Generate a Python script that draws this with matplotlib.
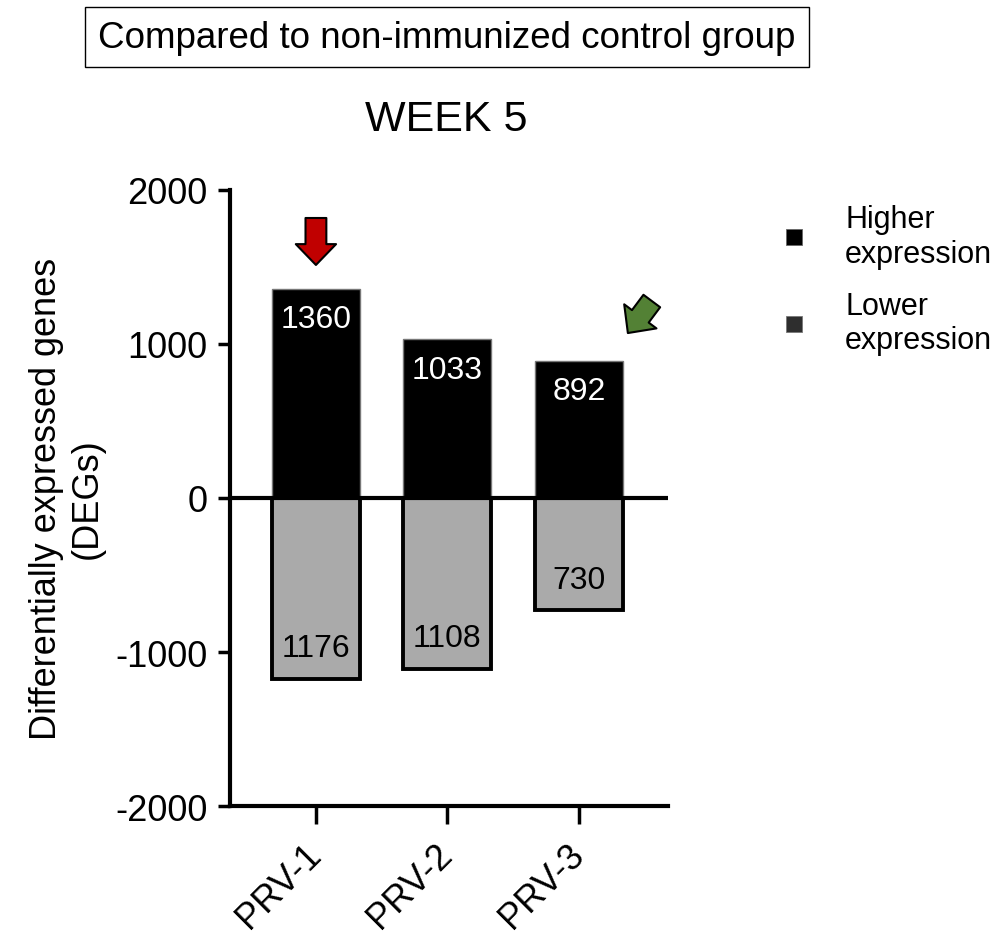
import matplotlib
matplotlib.use("Agg")
import matplotlib.pyplot as plt
import numpy as np
from matplotlib.lines import Line2D

plt.rcParams['font.family'] = ['Liberation Sans', 'DejaVu Sans']
plt.rcParams['axes.unicode_minus'] = False

### data
groups = ["PRV-1", "PRV-2", "PRV-3"]
higher = [1360, 1033, 892]
lower = [1176, 1108, 730]

fig = plt.figure(figsize=(10.02, 9.37), dpi=100)
ax = fig.add_axes([0.2295, 0.1387, 0.437, 0.6575])

x = np.arange(len(groups))
w = 0.67
ax.bar(x, higher, width=w, color="black", edgecolor="#777777", linewidth=1, zorder=2)
ax.bar(x, [-v for v in lower], width=w, color="#aaaaaa", edgecolor="black", linewidth=2.8, zorder=2)
ax.axhline(0, color="black", linewidth=3, zorder=3)

# value labels inside the bars
for i in range(len(groups)):
    ax.text(x[i], higher[i] - 200, str(higher[i]), color="white", fontsize=23,
            ha="center", va="center", zorder=4)
    ax.text(x[i], -lower[i] + 200, str(lower[i]), color="black", fontsize=23,
            ha="center", va="center", zorder=4)

ax.set_xlim(-0.654, 2.677)
ax.set_ylim(-2000, 2000)
ax.set_yticks([-2000, -1000, 0, 1000, 2000])
ax.set_xticks(x)
ax.set_xticklabels(groups, rotation=45, ha="right", va="center", rotation_mode="anchor")
ax.tick_params(axis="both", labelsize=26, width=2.5, direction="out")
ax.tick_params(axis="y", length=9, pad=7)
ax.tick_params(axis="x", length=13, pad=18)
for s in ["top", "right"]:
    ax.spines[s].set_visible(False)
for s in ["left", "bottom"]:
    ax.spines[s].set_linewidth(3)

ax.set_ylabel("Differentially expressed genes\n(DEGs)", fontsize=26, labelpad=8)

# arrows
style = "simple,head_width=2.9,head_length=1.5,tail_width=1.5"
ax.annotate("", xy=(0, 1513), xytext=(0, 1818),
            arrowprops=dict(arrowstyle=style, mutation_scale=10, shrinkA=0, shrinkB=0,
                            facecolor="#c00000", edgecolor="black", linewidth=1.5),
            annotation_clip=False)
ax.annotate("", xy=(2.373, 1071), xytext=(2.555, 1279),
            arrowprops=dict(arrowstyle=style, mutation_scale=10, shrinkA=0, shrinkB=0,
                            facecolor="#538135", edgecolor="black", linewidth=1.5),
            annotation_clip=False)

ax.set_title("WEEK 5", fontsize=31, pad=43, x=0.495)

fig.text(447 / 1002, 1 - 38 / 937, "Compared to non-immunized control group", fontsize=26.5,
         ha="center", va="center",
         bbox=dict(boxstyle="square,pad=0.35", facecolor="white", edgecolor="black", linewidth=1))

handles = [Line2D([], [], marker="s", linestyle="none", color="black", markersize=12,
                  markeredgecolor="#666666", markeredgewidth=0.6),
           Line2D([], [], marker="s", linestyle="none", color="#2e2e2e", markersize=12,
                  markeredgecolor="#777777", markeredgewidth=0.6)]
fig.legend(handles, ["Higher\nexpression", "Lower\nexpression"], loc="upper left",
           bbox_to_anchor=(770.6 / 1002, 1 - 205 / 937), frameon=False, fontsize=22,
           borderpad=0, borderaxespad=0, handletextpad=0.94, labelspacing=0.72,
           handlelength=1.5)

fig.savefig("out.png", dpi=100)
